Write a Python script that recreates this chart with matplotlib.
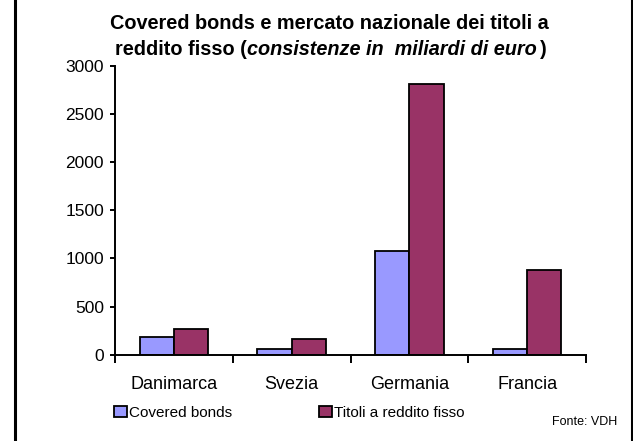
import matplotlib
matplotlib.use("Agg")
import numpy as np
import matplotlib.pyplot as plt
from matplotlib.patches import Patch
from matplotlib.lines import Line2D

plt.rcParams['font.family'] = ['Liberation Sans', 'DejaVu Sans']

# Dati (miliardi di euro)
paesi = ['Danimarca', 'Svezia', 'Germania', 'Francia']
covered_bonds = [187, 60, 1080, 62]
titoli_reddito_fisso = [270, 166, 2810, 877]
serie = ['Covered bonds', 'Titoli a reddito fisso']
colori = ['#9999FF', '#993366']
y_ticks = [0, 500, 1000, 1500, 2000, 2500, 3000]

W, H = 633, 441
fig = plt.figure(figsize=(W / 100, H / 100), dpi=100)
ax = fig.add_axes([115 / W, 1 - 354.7 / H, 471 / W, 289 / H])

x = np.arange(len(paesi))
w = 0.29
ax.bar(x - w / 2, covered_bonds, w, color=colori[0], edgecolor='black', linewidth=1.3)
ax.bar(x + w / 2, titoli_reddito_fisso, w, color=colori[1], edgecolor='black', linewidth=1.3)

ax.set_xlim(-0.5, len(paesi) - 0.5)
ax.set_ylim(0, 3000)
ax.set_yticks(y_ticks)
ax.set_xticks(np.arange(-0.5, len(paesi), 1))
ax.set_xticklabels([])
ax.set_xticks(x, minor=True)
ax.set_xticklabels(paesi, minor=True, fontsize=13)
ax.tick_params(axis='x', which='major', length=5.5, width=1.4, direction='out')
ax.tick_params(axis='x', which='minor', length=0, pad=15)
ax.tick_params(axis='y', length=3.6, width=1.4, pad=4.3, labelsize=12.5)
for s in ['top', 'right']:
    ax.spines[s].set_visible(False)
for s in ['left', 'bottom']:
    ax.spines[s].set_linewidth(1.4)

# Legenda
handles = [Patch(facecolor=c, edgecolor='black', linewidth=1.3) for c in colori]
fig.legend(handles, serie, loc='upper left', bbox_to_anchor=(114 / W, 1 - 406 / H),
           ncol=2, frameon=False, fontsize=11, handlelength=0.85, handleheight=0.75,
           handletextpad=0.1, columnspacing=5.75, borderpad=0, borderaxespad=0)

fig.text(617 / W, 1 - 422 / H, 'Fonte: VDH', ha='right', va='center', fontsize=9)

# Titolo
fs_title = 14.3
fig.text(329 / W, 1 - 29 / H, 'Covered bonds e mercato nazionale dei titoli a',
         ha='center', va='baseline', fontsize=fs_title, fontweight='bold')
parti = [('reddito fisso (', 'normal'), ('consistenze in  miliardi di euro', 'italic'), (')', 'normal')]
fig.canvas.draw()
r = fig.canvas.get_renderer()
testi = []
for t, st in parti:
    testi.append(fig.text(0, 1 - 55 / H, t, ha='left', va='baseline', fontsize=fs_title,
                          fontweight='bold', fontstyle=st))
larghezze = [t.get_window_extent(r).width for t in testi]
larghezze[1] += 3
x0 = 330.5 - sum(larghezze) / 2
for t, lw in zip(testi, larghezze):
    t.set_x(x0 / W)
    x0 += lw

# Cornice laterale
for xp in [14.5, 631.5]:
    fig.add_artist(Line2D([xp / W, xp / W], [0, 1], transform=fig.transFigure, color='black', lw=2.2))

fig.savefig('out.png', dpi=100)
